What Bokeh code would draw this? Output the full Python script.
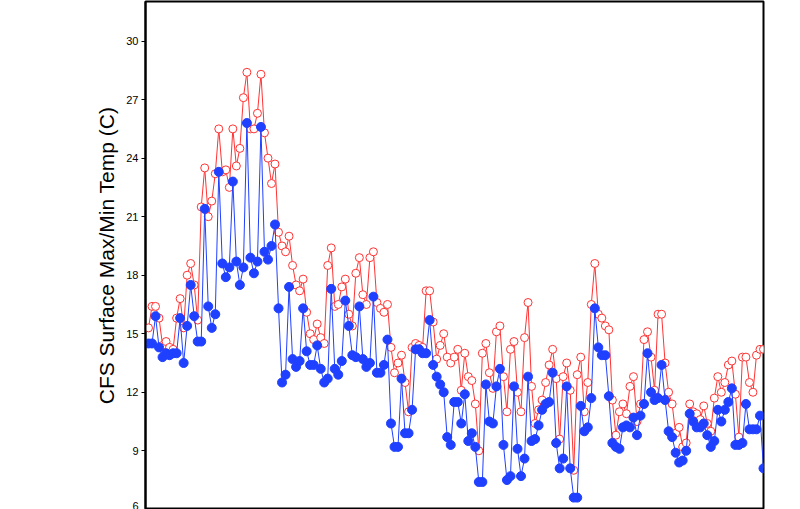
import numpy as np
from bokeh.plotting import figure
from bokeh.models import Range1d, FixedTicker, ColumnDataSource
from bokeh.embed import file_html
from bokeh.resources import INLINE

# CFS surface max / min temperature (C), one value per forecast step
tmax = [15.3, 16.4, 16.4, 15.8, 14.4, 14.6, 14.3, 14.2, 15.8, 16.8,
        15.3, 18.0, 18.6, 17.5, 15.7, 21.5, 23.5, 21.0, 21.8, 23.2,
        25.5, 23.3, 23.4, 22.5, 25.5, 23.6, 24.5, 27.1, 28.4, 25.5,
        25.5, 26.3, 28.3, 25.3, 24.0, 22.7, 23.7, 20.2, 19.5, 19.2,
        20.0, 18.5, 17.5, 17.2, 17.8, 16.1, 15.0, 14.7, 15.5, 14.8,
        14.5, 18.5, 19.4, 16.4, 16.5, 17.4, 17.8, 16.0, 15.4, 18.1,
        18.9, 17.0, 16.5, 18.9, 19.2, 16.6, 16.3, 16.1, 16.5, 14.3,
        13.0, 13.5, 13.9, 12.5, 11.0, 14.3, 14.5, 14.4, 14.3, 17.2,
        17.2, 15.6, 13.7, 14.4, 15.0, 13.8, 13.5, 13.8, 14.2, 12.1,
        14.0, 12.8, 12.6, 11.4, 9.0, 14.0, 14.5, 13.0, 12.2, 15.1,
        15.4, 12.8, 11.0, 14.2, 14.6, 12.0, 11.0, 14.8, 16.6, 12.3,
        10.4, 11.1, 11.6, 12.5, 13.4, 14.2, 12.7, 9.6, 12.8, 13.5,
        12.1, 8.0, 12.9, 13.8, 11.0, 12.5, 16.5, 18.6, 16.0, 15.8,
        15.4, 15.2, 11.6, 9.8, 11.0, 11.4, 10.9, 12.3, 12.8, 10.5,
        11.4, 14.7, 15.1, 13.8, 12.1, 16.0, 16.0, 13.5, 12.0, 11.4,
        9.9, 10.2, 9.2, 9.4, 11.4, 11.0, 10.9, 10.6, 11.3, 10.4,
        10.0, 11.7, 12.8, 12.0, 12.5, 13.4, 13.6, 11.9, 9.7, 13.8,
        13.8, 12.5, 12.0, 13.9, 14.2, 14.2]

tmin = [14.5, 14.5, 15.9, 14.3, 13.8, 14.0, 13.9, 14.0, 14.0, 15.8,
        13.5, 15.4, 17.5, 15.9, 14.6, 14.6, 21.4, 16.4, 15.3, 16.0,
        23.3, 18.6, 17.9, 18.4, 22.8, 18.7, 17.5, 18.4, 25.8, 18.9,
        18.1, 18.7, 25.6, 19.2, 18.8, 19.5, 20.6, 16.3, 12.5, 12.9,
        17.4, 13.7, 13.3, 13.6, 16.3, 14.1, 13.4, 13.4, 14.4, 13.2,
        12.5, 12.7, 17.3, 13.2, 12.9, 13.6, 16.7, 15.4, 13.9, 13.8,
        16.4, 13.7, 13.3, 13.5, 16.9, 13.0, 13.0, 13.4, 14.7, 10.4,
        9.2, 9.2, 12.7, 9.9, 9.9, 11.1, 14.2, 14.2, 14.0, 14.0,
        15.7, 13.4, 12.8, 12.4, 12.0, 9.7, 9.3, 11.5, 11.5, 10.4,
        11.9, 9.5, 9.9, 9.2, 7.4, 7.4, 12.4, 10.5, 10.4, 12.3,
        13.2, 9.3, 7.5, 7.7, 12.3, 9.1, 7.7, 8.6, 12.8, 9.5,
        9.6, 10.3, 11.1, 11.4, 11.5, 13.0, 9.4, 8.1, 8.6, 12.3,
        8.1, 6.6, 6.6, 11.3, 10.0, 10.2, 11.7, 16.3, 14.3, 13.9,
        13.9, 11.8, 9.4, 9.2, 9.1, 10.2, 10.3, 10.2, 10.7, 9.8,
        10.8, 11.4, 14.0, 12.0, 11.6, 11.7, 13.4, 11.6, 10.0, 9.7,
        8.9, 8.4, 8.5, 9.0, 10.9, 10.5, 10.2, 10.2, 10.4, 9.8,
        9.2, 9.5, 11.1, 10.5, 11.1, 11.5, 12.2, 9.3, 9.3, 9.4,
        11.4, 10.1, 10.1, 10.1, 10.8, 8.1]

y_ticks = [6, 9, 12, 15, 18, 21, 24, 27, 30]
y_title = "CFS Surface Max/Min Temp (C)"

n = min(len(tmax), len(tmin))
step = np.arange(n)
src = ColumnDataSource(dict(step=step, tmax=tmax[:n], tmin=tmin[:n]))

RED = "#ff3333"
BLUE = "#1f40ff"
FONT = "Liberation Sans"

p = figure(width=792, height=509,
           x_range=Range1d(-0.854, n - 1),
           y_range=Range1d(5.99, 32.03),
           x_axis_location=None,
           output_backend="svg", toolbar_location=None,
           min_border_left=145, min_border_right=29,
           min_border_top=1, min_border_bottom=0,
           margin=(0, 0, -8, 0))

p.background_fill_color = "white"
p.border_fill_color = "white"
p.outline_line_color = "black"
p.outline_line_width = 2
p.grid.visible = False

ax = p.yaxis[0]
ax.ticker = FixedTicker(ticks=y_ticks)
ax.axis_line_width = 2
ax.axis_line_color = "black"
ax.major_tick_out = 4
ax.major_tick_in = 0
ax.major_tick_line_width = 1
ax.minor_tick_out = 0
ax.minor_tick_in = 0
ax.major_label_text_font = FONT
ax.major_label_text_font_size = "11px"
ax.major_label_text_color = "black"
ax.major_label_standoff = 3
ax.axis_label = y_title
ax.axis_label_text_font = FONT
ax.axis_label_text_font_size = "21px"
ax.axis_label_text_font_style = "normal"
ax.axis_label_text_color = "black"
ax.axis_label_standoff = 5

p.line("step", "tmax", source=src, line_color=RED, line_width=1)
p.scatter("step", "tmax", source=src, marker="circle", size=8,
          fill_color="white", line_color=RED, line_width=1)
p.line("step", "tmin", source=src, line_color=BLUE, line_width=1)
p.scatter("step", "tmin", source=src, marker="circle", size=9,
          fill_color=BLUE, line_color=BLUE, line_width=1)

open("out.html", "w").write(file_html(p, INLINE))
